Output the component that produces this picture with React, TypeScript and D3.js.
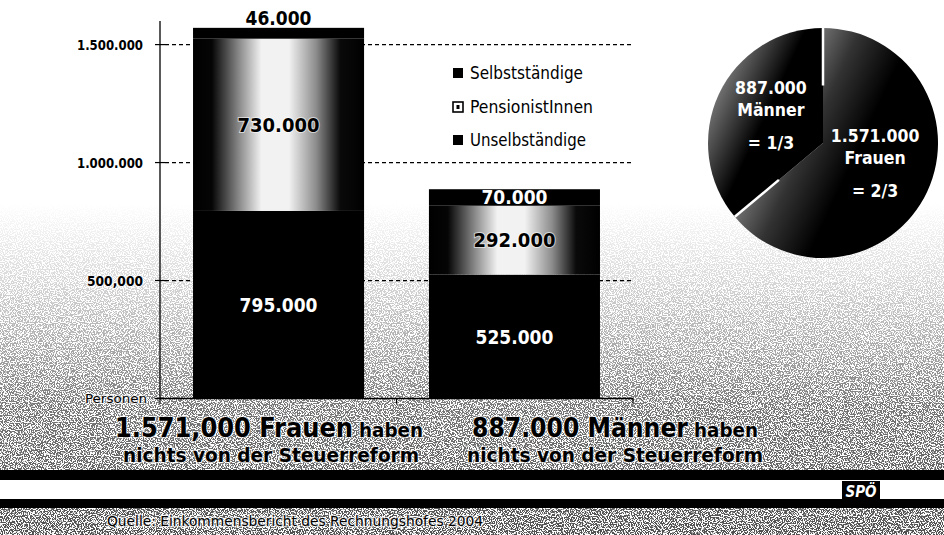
import React from "react";
import * as d3 from "d3";

// ---------- data ----------
const categories = ["Frauen", "Männer"];
const unselbstaendige = [795000, 525000];
const pensionistinnen = [730000, 292000];
const selbststaendige = [46000, 70000];
const legendNames = ["Selbstständige", "PensionistInnen", "Unselbständige"];
const yTicks = [0, 500000, 1000000, 1500000];
const yTickLabels = ["", "500,000", "1.000.000", "1.500.000"];
const yAxisTitle = "Personen";
const pieNames = ["Frauen", "Männer"];
const pieValues = [1571000, 887000];
const pieValueLabels = ["1.571.000", "887.000"];
const pieShares = ["= 2/3", "= 1/3"];
const bottomBig = ["1.571,000 Frauen", "887.000 Männer"];
const bottomSmall = ["haben", "haben"];
const bottomLine2 = ["nichts von der Steuerreform", "nichts von der Steuerreform"];
const sourceText = "Quelle: Einkommensbericht des Rechnungshofes 2004";
const logoText = "SPÖ";

const W = 944;
const H = 535;
const FONT = "'DejaVu Sans Condensed', 'DejaVu Sans', sans-serif";

const fmt = d3.formatLocale({ decimal: ",", thousands: ".", grouping: [3], currency: ["", ""] }).format(",d");

export default function App() {
  const y = d3.scaleLinear().domain([0, 1600000]).range([398.5, 21]);
  const x = d3.scaleBand().domain(categories).range([160, 633]).paddingInner(0.275).paddingOuter(0.14);
  const keys = ["unselbst", "pension", "selbst"];
  const table = categories.map((c, i) => ({
    cat: c,
    unselbst: unselbstaendige[i],
    pension: pensionistinnen[i],
    selbst: selbststaendige[i],
  }));
  const stacked = d3.stack<any>().keys(keys)(table);
  const fills: Record<string, string> = { unselbst: "#000", pension: "url(#pensionGrad)", selbst: "#000" };

  // pie
  const pcx = 823, pcy = 143, pr = 115;
  const pie = d3.pie<number>().sort(null).startAngle(0).endAngle(2 * Math.PI)(pieValues);
  const arc = d3.arc<any>().innerRadius(0).outerRadius(pr);

  const dir = (a: number) => [Math.sin(a), -Math.cos(a)];

  const bw = x.bandwidth();
  const x0 = 160, x1 = 633, yb = y(0);
  const halo = { stroke: "#fff", strokeWidth: 2.5, strokeOpacity: 0.6, style: { paintOrder: "stroke" as const } };

  return (
    <svg width={W} height={H} style={{ position: "absolute", left: 0, top: 0, display: "block", background: "#fff" }}>
      <defs>
        <linearGradient id="pensionGrad" x1="0" x2="1" y1="0" y2="0">
          <stop offset="0" stopColor="#000" />
          <stop offset="0.11" stopColor="#050505" />
          <stop offset="0.27" stopColor="#8a8a8a" />
          <stop offset="0.4" stopColor="#f2f2f2" />
          <stop offset="0.56" stopColor="#f2f2f2" />
          <stop offset="0.72" stopColor="#8c8c8c" />
          <stop offset="0.86" stopColor="#0a0a0a" />
          <stop offset="1" stopColor="#000" />
        </linearGradient>
        <linearGradient id="bgMaskGrad" x1="0" x2="0" y1="0" y2="1">
          <stop offset="0" stopColor="#000" />
          <stop offset="0.38" stopColor="#000" />
          <stop offset="0.52" stopColor="#262626" />
          <stop offset="0.66" stopColor="#5a5a5a" />
          <stop offset="0.76" stopColor="#8a8a8a" />
          <stop offset="0.9" stopColor="#a0a0a0" />
          <stop offset="1" stopColor="#b0b0b0" />
        </linearGradient>
        <mask id="bgMask">
          <rect x={0} y={0} width={W} height={H} fill="url(#bgMaskGrad)" />
        </mask>
        <filter id="speckle" x="0" y="0" width={W} height={H} filterUnits="userSpaceOnUse">
          <feTurbulence type="fractalNoise" baseFrequency="0.85" numOctaves={1} seed={7} result="t" />
          <feColorMatrix in="t" type="matrix" values="0 0 0 0 0  0 0 0 0 0  0 0 0 0 0  14 0 0 0 -6.4" />
        </filter>
        {pie.map((p, i) => {
          const mid = (p.startAngle + p.endAngle) / 2;
          const [dx, dy] = dir(mid);
          if (i === 0) {
            return (
              <linearGradient key={i} id={`pieGrad${i}`} gradientUnits="userSpaceOnUse"
                x1={-0.55 * pr * dx} y1={-0.55 * pr * dy} x2={0.3 * pr * dx} y2={0.3 * pr * dy}>
                <stop offset="0" stopColor="#888" />
                <stop offset="0.5" stopColor="#333" />
                <stop offset="1" stopColor="#000" />
              </linearGradient>
            );
          }
          return (
            <linearGradient key={i} id={`pieGrad${i}`} gradientUnits="userSpaceOnUse"
              x1={0.55 * pr * dx} y1={0.55 * pr * dy} x2={1.0 * pr * dx} y2={1.0 * pr * dy}>
              <stop offset="0" stopColor="#000" />
              <stop offset="1" stopColor="#6e6e6e" />
            </linearGradient>
          );
        })}
      </defs>

      {/* background speckle */}
      <g mask="url(#bgMask)">
        <rect x={0} y={0} width={W} height={H} fill="#000" filter="url(#speckle)" />
      </g>

      {/* gridlines */}
      {yTicks.filter((t) => t > 0).map((t) => (
        <line key={t} x1={165} x2={x1} y1={y(t)} y2={y(t)} stroke="#000" strokeWidth={1.2} strokeDasharray="4,3" />
      ))}

      {/* bars */}
      {stacked.map((s) => (
        <g key={s.key}>
          {s.map((d, i) => (
            <rect key={i} x={x(categories[i])} y={y(d[1])} width={bw} height={y(d[0]) - y(d[1])} fill={fills[s.key]} />
          ))}
        </g>
      ))}

      {/* bar labels */}
      {stacked.map((s) => (
        <g key={"l" + s.key}>
          {s.map((d, i) => {
            const v = d[1] - d[0];
            const h = y(d[0]) - y(d[1]);
            const cx = (x(categories[i]) as number) + bw / 2;
            const above = h < 14;
            const cy = above ? y(d[1]) - 3 : (y(d[0]) + y(d[1])) / 2 + 7;
            const isPension = s.key === "pension";
            const color = above || isPension ? "#000" : "#fff";
            return (
              <text key={i} x={cx} y={cy} textAnchor="middle" fontFamily={FONT} fontWeight="bold"
                fontSize={isPension ? 20 : 19} fill={color}
                stroke={isPension ? "#fff" : "none"} strokeWidth={isPension ? 2 : 0} strokeOpacity={0.6}
                style={{ paintOrder: "stroke" }}>
                {fmt(v)}
              </text>
            );
          })}
        </g>
      ))}

      {/* y axis */}
      <line x1={x0} x2={x0} y1={y(1600000)} y2={yb} stroke="#000" strokeWidth={1.3} />
      {yTicks.map((t, i) => (
        <g key={t}>
          <line x1={155} x2={165} y1={y(t)} y2={y(t)} stroke="#000" strokeWidth={1.2} />
          {yTickLabels[i] && (
            <text x={143} y={y(t) + 5} textAnchor="end" fontFamily={FONT} fontWeight="bold" fontSize={13.5}
              textLength={i === 1 ? 56 : 66} lengthAdjust="spacingAndGlyphs" fill="#000" {...halo}>
              {yTickLabels[i]}
            </text>
          )}
        </g>
      ))}
      <text x={147} y={yb + 4} textAnchor="end" fontFamily={FONT} fontSize={13} fill="#000"
        textLength={62} lengthAdjust="spacingAndGlyphs" {...halo}>{yAxisTitle}</text>

      {/* x axis */}
      <line x1={x0} x2={x1} y1={yb} y2={yb} stroke="#000" strokeWidth={1.3} />
      {[x0, (x0 + x1) / 2, x1].map((t) => (
        <line key={t} x1={t} x2={t} y1={yb} y2={yb + 5} stroke="#000" strokeWidth={1.2} />
      ))}

      {/* legend */}
      {legendNames.map((n, i) => {
        const base = [79, 113, 146][i];
        const tl = [113, 123, 116][i];
        return (
          <g key={n}>
            <rect x={453} y={base - 11} width={10} height={10}
              fill={i === 1 ? "#fff" : "#000"} stroke="#000" strokeWidth={i === 1 ? 1.6 : 0} />
            {i === 1 && <rect x={456.5} y={base - 8} width={3} height={4} fill="#000" />}
            <text x={470} y={base} fontFamily={FONT} fontSize={17} fill="#000"
              textLength={tl} lengthAdjust="spacingAndGlyphs">{n}</text>
          </g>
        );
      })}

      {/* pie */}
      <g transform={`translate(${pcx},${pcy})`}>
        {pie.map((p, i) => (
          <path key={i} d={arc(p) as string} fill={`url(#pieGrad${i})`} />
        ))}
        {pie.map((p, i) => {
          const [dx, dy] = dir(p.startAngle);
          return (
            <line key={"sep" + i} x1={0.5 * pr * dx} y1={0.5 * pr * dy} x2={pr * dx} y2={pr * dy}
              stroke="#fff" strokeWidth={2.5} />
          );
        })}
        {pie.map((p, i) => {
          const [cx, cy] = arc.centroid(p);
          const lines = [pieValueLabels[i], pieNames[i], pieShares[i]];
          const offs = [-25, -3, 30];
          return (
            <g key={"pl" + i}>
              {lines.map((ln, j) => (
                <text key={j} x={cx} y={cy + offs[j]} textAnchor="middle" fontFamily={FONT}
                  fontWeight="bold" fontSize={17.5} fill="#fff">{ln}</text>
              ))}
            </g>
          );
        })}
      </g>

      {/* bottom titles */}
      {[0, 1].map((i) => {
        const startX = [115, 472][i];
        const bigLen = [238, 216][i];
        const line2X = [123, 467][i];
        return (
          <g key={"bt" + i}>
            <text x={startX} y={437} fontFamily={FONT} fontWeight="bold" fontSize={26} fill="#000"
              textLength={bigLen} lengthAdjust="spacingAndGlyphs" {...halo}>{bottomBig[i]}</text>
            <text x={startX + bigLen + 6} y={437} fontFamily={FONT} fontWeight="bold" fontSize={19} fill="#000"
              textLength={64} lengthAdjust="spacingAndGlyphs" {...halo}>{bottomSmall[i]}</text>
            <text x={line2X} y={462} fontFamily={FONT} fontWeight="bold" fontSize={20} fill="#000"
              textLength={296} lengthAdjust="spacingAndGlyphs" {...halo}>{bottomLine2[i]}</text>
          </g>
        );
      })}

      {/* footer bands */}
      <rect x={0} y={470} width={W} height={10} fill="#000" />
      <rect x={0} y={480} width={W} height={19} fill="#fff" />
      <rect x={0} y={499} width={W} height={9} fill="#000" />
      <rect x={842} y={481} width={38} height={19} fill="#000" />
      <text x={861} y={497} textAnchor="middle" fontFamily={FONT} fontWeight="bold" fontStyle="italic"
        fontSize={15} fill="#fff">{logoText}</text>
      <text x={107} y={526} fontFamily={FONT} fontSize={14} fill="#000"
        textLength={376} lengthAdjust="spacingAndGlyphs" stroke="#fff" strokeWidth={2.5} strokeOpacity={0.7}
        style={{ paintOrder: "stroke" }}>{sourceText}</text>
    </svg>
  );
}
